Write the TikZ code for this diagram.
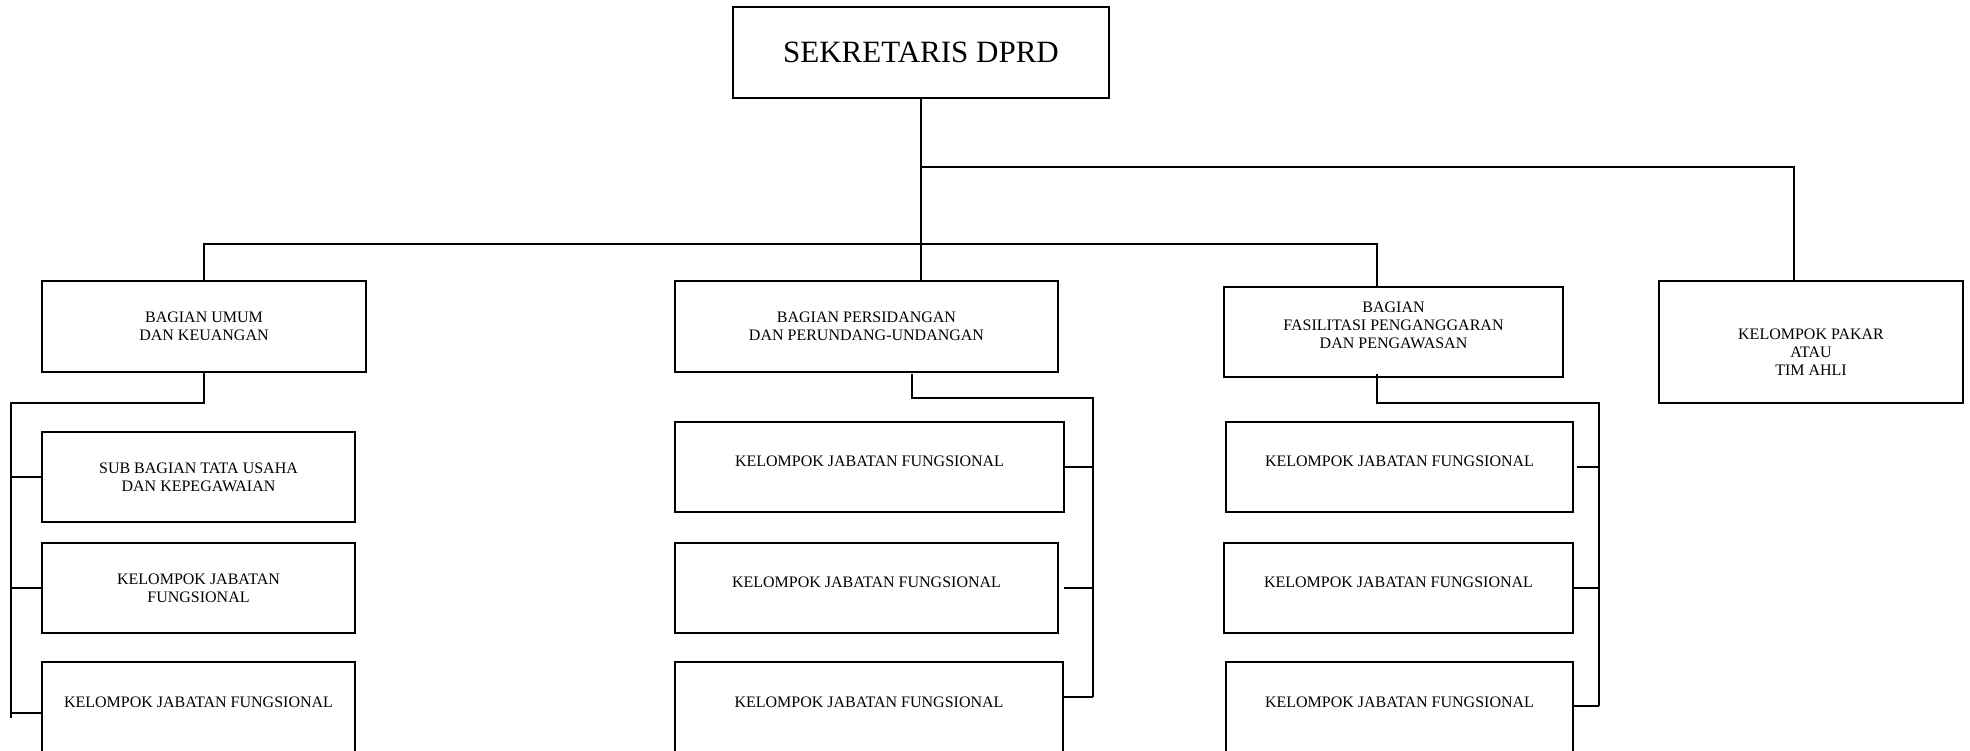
\documentclass[tikz,border=0pt]{standalone}
\usepackage{fontspec}
\setmainfont{Liberation Serif}
\usetikzlibrary{positioning}
\usetikzlibrary{calc}

\begin{document}
\begin{tikzpicture}[x=1pt, y=-1pt,
	unitbox/.style={rectangle, draw=black, line width=1.6pt, align=center, inner sep=0pt, font=\fontsize{16}{18}\selectfont},
	headbox/.style={unitbox, line width=2.6pt},
	kjfbox/.style={unitbox, text height=11pt, text depth=12pt},
	link/.style={line width=1.3pt}]
	\useasboundingbox (0,0) rectangle (1970,750);

	\node[headbox, minimum width=376pt, minimum height=91pt, font=\fontsize{31}{36}\selectfont] (sekretaris) at (921,52.5) {SEKRETARIS DPRD};

	\node[unitbox, minimum width=324pt, minimum height=91pt] (umum) at (204,326.5) {BAGIAN UMUM\\DAN KEUANGAN};
	\node[unitbox, minimum width=383pt, minimum height=91pt] (sidang) at (866.5,326.5) {BAGIAN PERSIDANGAN\\DAN PERUNDANG-UNDANGAN};
	\node[unitbox, minimum width=339pt, minimum height=90pt] (fasilitasi) at (1393.5,332) {BAGIAN\\FASILITASI PENGANGGARAN\\DAN PENGAWASAN\rule[-14pt]{0pt}{14pt}};
	\node[headbox, minimum width=304pt, minimum height=122pt] (pakar) at (1811,342) {\rule{0pt}{31pt}KELOMPOK PAKAR\\ATAU\\TIM AHLI};

	\node[unitbox, minimum width=313pt, minimum height=90pt] (subbagian) at (198.5,477) {SUB BAGIAN TATA USAHA\\DAN KEPEGAWAIAN};
	\node[unitbox, minimum width=313pt, minimum height=90pt] (umumkjf1) at (198.5,588) {KELOMPOK JABATAN\\FUNGSIONAL};
	\node[kjfbox, minimum width=313pt, minimum height=91pt] (umumkjf2) at (198.5,707.5) {KELOMPOK JABATAN FUNGSIONAL};

	\node[kjfbox, minimum width=389pt, minimum height=90pt] (sidangkjf1) at (869.5,467) {KELOMPOK JABATAN FUNGSIONAL};
	\node[kjfbox, minimum width=383pt, minimum height=90pt] (sidangkjf2) at (866.5,588) {KELOMPOK JABATAN FUNGSIONAL};
	\node[kjfbox, minimum width=388pt, minimum height=91pt] (sidangkjf3) at (869,707.5) {KELOMPOK JABATAN FUNGSIONAL};

	\node[kjfbox, minimum width=347pt, minimum height=90pt] (faskjf1) at (1399.5,467) {KELOMPOK JABATAN FUNGSIONAL};
	\node[kjfbox, minimum width=349pt, minimum height=90pt] (faskjf2) at (1398.5,588) {KELOMPOK JABATAN FUNGSIONAL};
	\node[kjfbox, minimum width=347pt, minimum height=91pt] (faskjf3) at (1399.5,707.5) {KELOMPOK JABATAN FUNGSIONAL};

	% top level
	\coordinate (topbar) at (921,167);
	\coordinate (midbar) at (921,244);
	\coordinate (pakarin) at (1794,281);
	\coordinate (fasin) at (1377,287);
	\draw[link] (sekretaris.south) -- (sekretaris.south |- sidang.north);
	\draw[link] (topbar) -| (pakarin);
	\draw[link] (umum.north) |- (midbar) -| (fasin);

	% bagian umum
	\coordinate (umumspine) at (11,403);
	\coordinate (umumend) at (11,718);
	\coordinate (umumtick) at (11,713);
	\draw[link] (umum.south) |- (umumspine) -- (umumend);
	\draw[link] (subbagian.west -| umumspine) -- (subbagian.west);
	\draw[link] (umumkjf1.west -| umumspine) -- (umumkjf1.west);
	\draw[link] (umumtick) -- (umumtick -| umumkjf2.west);

	% bagian persidangan
	\coordinate (sidangout) at (912,374);
	\coordinate (sidangspine) at (1093,398);
	\coordinate (sidangend) at (1093,697);
	\draw[link] (sidangout) |- (sidangspine) -- (sidangend);
	\draw[link] (sidangkjf1.east) -- (sidangkjf1.east -| sidangspine);
	\draw[link] ([xshift=5pt]sidangkjf2.east) -- (sidangkjf2.east -| sidangspine);
	\draw[link] (sidangkjf3.east |- sidangend) -- (sidangend);

	% bagian fasilitasi
	\coordinate (fasout) at (1377,374);
	\coordinate (fasspine) at (1599,403);
	\coordinate (fasend) at (1599,706);
	\draw[link] (fasout) |- (fasspine) -- (fasend);
	\draw[link] ([xshift=3pt]faskjf1.east) -- (faskjf1.east -| fasspine);
	\draw[link] (faskjf2.east) -- (faskjf2.east -| fasspine);
	\draw[link] (faskjf3.east |- fasend) -- (fasend);
\end{tikzpicture}
\end{document}
